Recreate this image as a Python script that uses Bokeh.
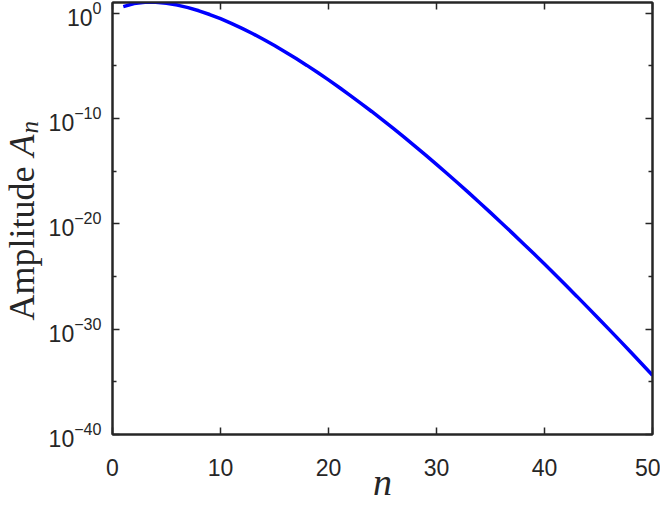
import math
from bokeh.plotting import figure
from bokeh.models import FixedTicker, LinearAxis, Range1d, CustomJSTickFormatter
from bokeh.layouts import row, column
from bokeh.core.properties import value
from bokeh.embed import file_html
from bokeh.resources import INLINE

# ---- data ----
n_values = list(range(1, 51))
amplitude = [
    4.00e0, 8.00e0, 1.067e1, 1.067e1, 8.53e0, 5.69e0, 3.25e0, 1.63e0, 7.22e-1, 2.89e-1,
    1.05e-1, 3.51e-2, 1.08e-2, 3.08e-3, 8.22e-4, 2.05e-4, 4.83e-5, 1.07e-5, 2.26e-6, 4.52e-7,
    8.61e-8, 1.56e-8, 2.72e-9, 4.53e-10, 7.26e-11, 1.12e-11, 1.66e-12, 2.37e-13, 3.26e-14, 4.35e-15,
    5.61e-16, 7.01e-17, 8.49e-18, 1.00e-18, 1.14e-19, 1.27e-20, 1.37e-21, 1.44e-22, 1.48e-23, 1.48e-24,
    1.45e-25, 1.38e-26, 1.28e-27, 1.16e-28, 1.04e-29, 9.00e-31, 7.66e-32, 6.38e-33, 5.21e-34, 4.17e-35,
]
x_ticks = [0, 10, 20, 30, 40, 50]
y_major_ticks = [1e-40, 1e-30, 1e-20, 1e-10, 1e0]
y_minor_ticks = [1e-35, 1e-25, 1e-15, 1e-5]
x_label = "n"
y_label_word = "Amplitude"
y_label_sym = "A"
y_label_sub = "n"

INK = "#262626"
SANS = "Liberation Sans"
SERIF = "Liberation Serif"

LAB_W = 44          # width of the strip that carries the y label
MAIN_W, MAIN_H = 616, 509
TOTAL_H = MAIN_H

# ---------------- main plot ----------------
p = figure(
    width=MAIN_W, height=MAIN_H,
    x_range=Range1d(0, 50), y_range=Range1d(1e-40, 1e1),
    y_axis_type="log",
    output_backend="svg", toolbar_location=None,
    min_border_left=68, min_border_right=8, min_border_top=2, min_border_bottom=75,
)
p.background_fill_color = "white"
p.border_fill_color = "white"
p.xgrid.visible = False
p.ygrid.visible = False
p.outline_line_color = INK
p.outline_line_width = 2

p.line(n_values, amplitude, line_color="#0000ff", line_width=3.5)

blank = CustomJSTickFormatter(code="return '';")


def style_axis(ax, show_labels, minor=True):
    ax.axis_line_color = INK
    ax.axis_line_width = 2
    ax.major_tick_line_color = INK
    ax.major_tick_line_width = 1.5
    ax.major_tick_in = 7
    ax.major_tick_out = 0
    if minor:
        ax.minor_tick_line_color = INK
        ax.minor_tick_line_width = 1.5
        ax.minor_tick_in = 4
        ax.minor_tick_out = 0
    else:
        ax.minor_tick_in = 0
        ax.minor_tick_out = 0
        ax.minor_tick_line_color = None
    ax.major_label_text_color = INK
    ax.major_label_text_font = SANS
    if show_labels:
        ax.major_label_text_font_size = "23px"
    else:
        ax.formatter = blank
        ax.major_label_text_font_size = "1px"
        ax.major_label_standoff = 0


xa = p.xaxis[0]
xa.ticker = FixedTicker(ticks=x_ticks)
style_axis(xa, True, minor=False)
xa.major_label_standoff = 24
xa.axis_label = x_label
xa.axis_label_text_font = SERIF
xa.axis_label_text_font_style = "italic"
xa.axis_label_text_font_size = "38px"
xa.axis_label_text_color = INK
xa.axis_label_standoff = -18

ya = p.yaxis[0]
ya.ticker = FixedTicker(ticks=y_major_ticks, minor_ticks=y_minor_ticks)
style_axis(ya, True)
ya.major_label_standoff = 11

top = LinearAxis(ticker=FixedTicker(ticks=x_ticks))
style_axis(top, False, minor=False)
p.add_layout(top, "above")
right = LinearAxis(ticker=FixedTicker(ticks=y_major_ticks, minor_ticks=y_minor_ticks))
style_axis(right, False)
p.add_layout(right, "right")


def text_strip(w, h):
    f = figure(width=w, height=h, x_range=Range1d(0, w), y_range=Range1d(0, h),
               output_backend="svg", toolbar_location=None,
               min_border=0, min_border_left=0, min_border_right=0,
               min_border_top=0, min_border_bottom=0)
    f.axis.visible = False
    f.xgrid.visible = False
    f.ygrid.visible = False
    f.outline_line_color = None
    f.background_fill_color = "white"
    f.border_fill_color = "white"
    return f


# ---------------- y label strip (pixel coordinates, y measured from bottom) ----------------
ylab = text_strip(LAB_W, TOTAL_H)
ylab.text(x=[21], y=[TOTAL_H - 243], text=[y_label_word], angle=math.pi / 2,
          text_font=value(SERIF), text_font_size="36px", text_color=INK,
          text_align="center", text_baseline="middle")
ylab.text(x=[21], y=[TOTAL_H - 156], text=[y_label_sym], angle=math.pi / 2,
          text_font=value(SERIF), text_font_style="italic", text_font_size="36px",
          text_color=INK, text_align="left", text_baseline="middle")
ylab.text(x=[29], y=[TOTAL_H - 133], text=[y_label_sub], angle=math.pi / 2,
          text_font=value(SERIF), text_font_style="italic", text_font_size="25px",
          text_color=INK, text_align="left", text_baseline="middle")

# nesting the main plot in its own column keeps its frame from being aligned with the label strip
layout = row(ylab, column(p, spacing=0), spacing=0)

open("out.html", "w").write(file_html(layout, INLINE))
